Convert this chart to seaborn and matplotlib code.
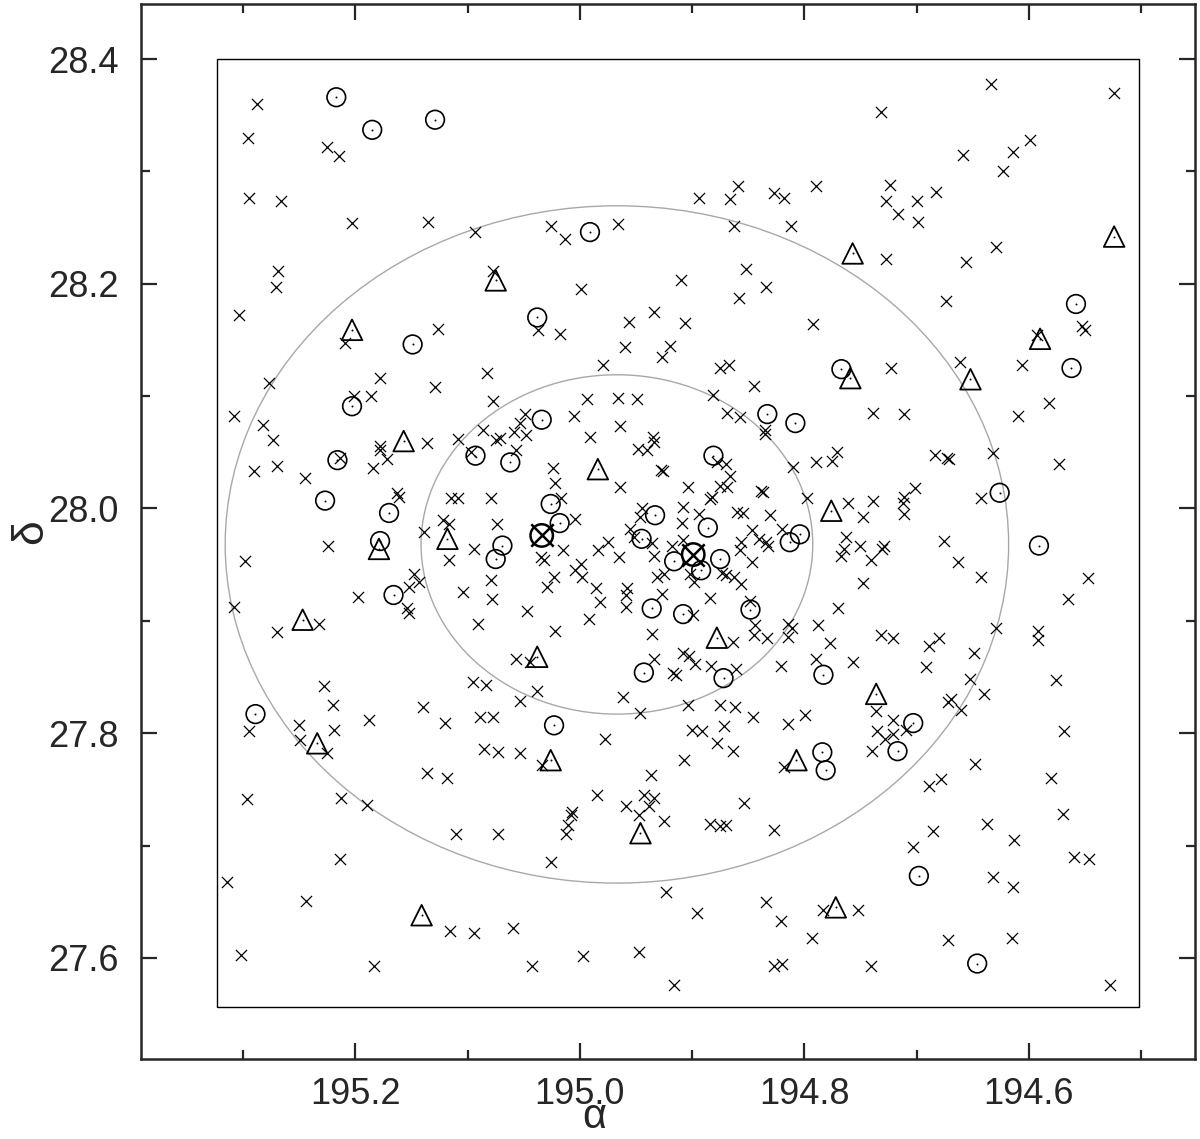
import matplotlib
matplotlib.use("Agg")
import matplotlib.pyplot as plt
from matplotlib.patches import Ellipse, Rectangle
from matplotlib.ticker import MultipleLocator, FormatStrFormatter
import pandas as pd
import seaborn as sns

# sources without classification (crosses): (RA, Dec) in degrees
cross_pts = [
    (195.288, 28.360), (195.296, 28.330), (195.225, 28.322), (195.215, 28.314), (195.295, 28.276),
    (195.266, 28.274), (195.203, 28.254), (195.135, 28.255), (195.093, 28.246), (195.269, 28.211),
    (195.271, 28.197), (195.304, 28.172), (195.126, 28.160), (195.209, 28.147), (195.077, 28.211),
    (194.859, 28.287), (194.894, 28.276), (194.866, 28.275), (194.827, 28.281), (194.818, 28.276),
    (194.790, 28.287), (195.026, 28.251), (195.013, 28.240), (194.966, 28.253), (194.863, 28.251),
    (194.812, 28.251), (194.852, 28.213), (194.910, 28.203), (194.834, 28.197), (194.999, 28.195),
    (194.858, 28.187), (194.934, 28.175), (194.956, 28.166), (194.906, 28.165), (194.792, 28.164),
    (195.037, 28.159), (195.018, 28.155), (194.960, 28.144), (194.920, 28.145), (194.927, 28.135),
    (194.634, 28.378), (194.524, 28.370), (194.732, 28.353), (194.599, 28.328), (194.659, 28.315),
    (194.614, 28.317), (194.623, 28.300), (194.724, 28.288), (194.683, 28.282), (194.727, 28.274),
    (194.700, 28.274), (194.717, 28.262), (194.699, 28.255), (194.629, 28.233), (194.727, 28.222),
    (194.656, 28.219), (194.674, 28.185), (194.553, 28.162), (194.550, 28.159), (194.593, 28.154),
    (195.277, 28.112), (195.178, 28.116), (195.186, 28.100), (195.201, 28.100), (195.129, 28.108),
    (195.083, 28.121), (195.077, 28.096), (195.308, 28.082), (195.282, 28.074), (195.273, 28.061),
    (195.290, 28.033), (195.270, 28.038), (195.245, 28.027), (195.214, 28.045), (195.178, 28.056),
    (195.178, 28.052), (195.172, 28.044), (195.184, 28.036), (195.136, 28.058), (195.109, 28.062),
    (195.097, 28.050), (195.086, 28.070), (195.075, 28.061), (195.071, 28.063), (195.059, 28.068),
    (195.053, 28.076), (195.057, 28.052), (195.163, 28.014), (195.161, 28.010), (195.115, 28.009),
    (195.109, 28.009), (195.079, 28.009), (195.122, 27.990), (195.117, 27.986), (195.074, 27.986),
    (195.139, 27.979), (195.094, 27.964), (195.117, 27.954), (195.224, 27.967), (195.298, 27.953),
    (195.148, 27.942), (195.152, 27.930), (195.143, 27.935), (195.154, 27.911), (195.152, 27.907),
    (195.198, 27.921), (195.104, 27.926), (195.079, 27.936), (195.078, 27.919), (195.308, 27.912),
    (195.270, 27.890), (195.232, 27.897), (195.091, 27.897), (195.057, 27.866),
    (194.979, 28.128), (194.875, 28.125), (194.867, 28.128), (194.845, 28.109), (194.881, 28.101),
    (194.994, 28.097), (194.966, 28.098), (194.949, 28.097), (195.049, 28.084), (195.048, 28.065),
    (195.005, 28.082), (194.964, 28.073), (194.991, 28.064), (194.935, 28.064), (194.934, 28.059),
    (194.948, 28.053), (194.940, 28.052), (194.928, 28.034), (194.926, 28.033), (194.869, 28.085),
    (194.857, 28.081), (194.835, 28.070), (194.835, 28.066), (195.024, 28.036), (195.022, 28.023),
    (194.964, 28.019), (194.904, 28.019), (194.878, 28.041), (194.870, 28.040), (194.866, 28.029),
    (194.875, 28.020), (194.869, 28.019), (194.882, 28.010), (194.884, 28.008), (194.839, 28.016),
    (194.837, 28.015), (194.810, 28.037), (194.790, 28.041), (194.798, 28.009), (195.017, 28.009),
    (195.004, 27.991), (194.908, 28.001), (194.909, 27.987), (194.894, 27.995), (194.860, 27.997),
    (194.855, 27.996), (194.831, 27.994), (194.945, 28.000), (194.946, 27.992), (194.955, 27.982),
    (194.952, 27.975), (194.847, 27.981), (194.840, 27.973), (194.834, 27.970), (194.832, 27.967),
    (194.856, 27.970), (194.857, 27.963), (194.820, 27.982), (194.975, 27.970), (194.984, 27.963),
    (195.015, 27.963), (195.035, 27.957), (195.032, 27.954), (194.965, 27.957), (194.936, 27.969),
    (194.934, 27.958), (194.918, 27.967), (194.908, 27.972), (194.847, 27.952), (194.999, 27.951),
    (195.004, 27.945), (194.998, 27.939), (195.023, 27.939), (195.029, 27.930), (194.986, 27.929),
    (194.982, 27.917), (194.958, 27.929), (194.959, 27.923), (194.959, 27.912), (194.931, 27.939),
    (194.925, 27.942), (194.927, 27.924), (194.902, 27.942), (194.898, 27.935), (194.873, 27.943),
    (194.870, 27.941), (194.863, 27.939), (194.856, 27.933), (194.884, 27.920), (194.848, 27.918),
    (194.899, 27.905), (195.047, 27.909), (194.992, 27.902), (195.022, 27.891), (194.936, 27.888),
    (194.844, 27.896), (194.845, 27.887), (194.833, 27.885), (194.815, 27.897), (194.811, 27.894),
    (194.815, 27.886), (194.788, 27.896), (194.777, 27.880), (194.864, 27.881), (194.934, 27.866),
    (194.908, 27.871), (194.903, 27.869), (194.897, 27.862), (194.883, 27.860), (194.861, 27.857),
    (194.821, 27.860), (194.790, 27.866), (195.044, 27.863),
    (194.723, 28.125), (194.661, 28.130), (194.606, 28.128), (194.582, 28.094), (194.739, 28.085),
    (194.711, 28.084), (194.610, 28.082), (194.771, 28.050), (194.775, 28.042), (194.684, 28.048),
    (194.673, 28.045), (194.671, 28.044), (194.632, 28.049), (194.573, 28.040), (194.701, 28.018),
    (194.711, 28.010), (194.712, 28.005), (194.761, 28.005), (194.739, 28.007), (194.748, 27.992),
    (194.711, 27.995), (194.643, 28.009), (194.763, 27.975), (194.765, 27.964), (194.767, 27.958),
    (194.750, 27.967), (194.729, 27.967), (194.731, 27.964), (194.741, 27.954), (194.676, 27.971),
    (194.663, 27.952), (194.643, 27.939), (194.547, 27.938), (194.748, 27.934), (194.565, 27.919),
    (194.770, 27.911), (194.732, 27.887), (194.721, 27.885), (194.689, 27.878), (194.680, 27.885),
    (194.629, 27.894), (194.592, 27.891), (194.592, 27.883), (194.649, 27.871), (194.757, 27.863),
    (194.692, 27.859),
    (195.228, 27.842), (195.220, 27.825), (195.188, 27.812), (195.219, 27.803), (195.250, 27.807),
    (195.249, 27.794), (195.225, 27.782), (195.295, 27.802), (195.140, 27.823), (195.120, 27.809),
    (195.095, 27.846), (195.084, 27.843), (195.089, 27.814), (195.077, 27.814), (195.085, 27.786),
    (195.073, 27.783), (195.053, 27.782), (195.053, 27.829), (195.136, 27.765), (195.118, 27.760),
    (195.297, 27.741), (195.213, 27.742), (195.190, 27.736), (195.110, 27.710), (195.073, 27.710),
    (195.214, 27.688), (195.314, 27.668), (195.244, 27.651), (195.116, 27.624), (195.094, 27.622),
    (195.060, 27.627), (195.302, 27.603), (195.183, 27.593),
    (195.038, 27.838), (194.962, 27.832), (194.946, 27.818), (194.904, 27.825), (194.875, 27.825),
    (194.862, 27.823), (194.846, 27.814), (194.815, 27.808), (194.799, 27.816), (194.900, 27.803),
    (194.891, 27.802), (194.872, 27.806), (194.878, 27.791), (194.864, 27.784), (194.978, 27.795),
    (194.907, 27.776), (195.034, 27.772), (194.818, 27.770), (194.937, 27.763), (194.985, 27.745),
    (194.943, 27.745), (194.934, 27.742), (194.938, 27.735), (194.959, 27.735), (194.947, 27.727),
    (194.925, 27.722), (195.007, 27.730), (195.008, 27.727), (195.011, 27.718), (195.012, 27.710),
    (194.884, 27.719), (194.875, 27.717), (194.870, 27.718), (194.854, 27.738), (194.827, 27.714),
    (195.026, 27.685), (194.923, 27.659), (194.834, 27.650), (194.896, 27.640), (194.821, 27.633),
    (194.783, 27.643), (194.793, 27.618), (194.997, 27.602), (194.947, 27.605), (195.043, 27.593),
    (194.827, 27.593), (194.820, 27.595), (194.916, 27.576), (194.917, 27.854), (194.914, 27.852),
    (194.652, 27.848), (194.640, 27.835), (194.576, 27.847), (194.736, 27.820), (194.721, 27.812),
    (194.672, 27.828), (194.669, 27.830), (194.660, 27.821), (194.735, 27.802), (194.728, 27.795),
    (194.721, 27.799), (194.709, 27.803), (194.740, 27.784), (194.569, 27.802), (194.648, 27.773),
    (194.580, 27.760), (194.678, 27.759), (194.689, 27.753), (194.570, 27.728), (194.637, 27.719),
    (194.685, 27.713), (194.613, 27.705), (194.703, 27.699), (194.560, 27.690), (194.546, 27.688),
    (194.632, 27.672), (194.614, 27.663), (194.752, 27.643), (194.672, 27.616), (194.615, 27.618),
    (194.741, 27.593), (194.528, 27.576),
]

# open circles with a central dot
circle_pts = [
    (195.217, 28.366), (195.185, 28.337), (195.129, 28.346), (195.149, 28.146), (194.991, 28.246),
    (195.038, 28.170), (194.558, 28.182), (195.203, 28.091), (195.216, 28.043), (195.093, 28.047),
    (195.062, 28.041), (195.227, 28.007), (195.170, 27.996), (195.178, 27.971), (195.069, 27.967),
    (195.075, 27.955), (195.166, 27.923), (195.034, 28.079), (194.833, 28.084), (194.808, 28.076),
    (194.881, 28.047), (195.026, 28.004), (195.018, 27.987), (194.933, 27.994), (194.886, 27.983),
    (194.945, 27.973), (194.813, 27.970), (194.804, 27.977), (194.916, 27.953), (194.875, 27.955),
    (194.892, 27.945), (194.936, 27.911), (194.908, 27.906), (194.848, 27.910), (194.767, 28.124),
    (194.562, 28.125), (194.626, 28.014), (194.591, 27.967), (195.289, 27.817), (194.943, 27.854),
    (194.872, 27.849), (194.783, 27.852), (195.023, 27.807), (194.784, 27.783), (194.781, 27.767),
    (194.703, 27.809), (194.717, 27.784), (194.698, 27.673), (194.646, 27.595),
]

# triangles with a central dot
triangle_pts = [
    (195.075, 28.203), (195.203, 28.159), (194.757, 28.227), (194.524, 28.242), (194.590, 28.151),
    (195.157, 28.060), (195.118, 27.973), (195.179, 27.964), (195.247, 27.901), (194.984, 28.035),
    (194.878, 27.885), (195.038, 27.868), (194.759, 28.116), (194.652, 28.115), (194.776, 27.998),
    (195.234, 27.791), (195.141, 27.638), (195.026, 27.776), (194.807, 27.776), (194.946, 27.711),
    (194.736, 27.835), (194.772, 27.645),
]

# two bright objects: circle with a cross
crossed_pts = [(195.034, 27.976), (194.899, 27.959)]

centre = (194.967, 27.968)
outer_axes = (0.349, 0.3014)
inner_axes = (0.1745, 0.151)
field_ra = (194.502, 195.323)
field_dec = (27.556, 28.400)

crosses = pd.DataFrame(cross_pts, columns=["ra", "dec"])
circles = pd.DataFrame(circle_pts, columns=["ra", "dec"])
triangles = pd.DataFrame(triangle_pts, columns=["ra", "dec"])
crossed = pd.DataFrame(crossed_pts, columns=["ra", "dec"])

sns.set_style("ticks")
plt.rcParams["font.family"] = ["Liberation Sans", "DejaVu Sans"]

fig = plt.figure(figsize=(12, 11.39), dpi=100)
ax = fig.add_axes([0.1175, 0.0702, 0.8783, 0.9263])

ax.add_patch(Rectangle((field_ra[0], field_dec[0]), field_ra[1] - field_ra[0],
                       field_dec[1] - field_dec[0], fill=False, ec="black", lw=1.0, zorder=1))
for a, b in (outer_axes, inner_axes):
    ax.add_patch(Ellipse(centre, 2 * a, 2 * b, fill=False, ec="#a8a8a8", lw=1.0, zorder=1))

sns.scatterplot(data=crosses, x="ra", y="dec", marker="x", s=64, color="black",
                linewidth=0.9, ax=ax, zorder=3)
sns.scatterplot(data=circles, x="ra", y="dec", marker="o", s=180, facecolor="none",
                edgecolor="black", linewidth=1.2, ax=ax, zorder=4)
sns.scatterplot(data=triangles, x="ra", y="dec", marker="^", s=220, facecolor="none",
                edgecolor="black", linewidth=1.3, ax=ax, zorder=4)
dots = pd.concat([circles, triangles])
sns.scatterplot(data=dots, x="ra", y="dec", marker="o", s=2, color="black",
                linewidth=0, ax=ax, zorder=5)
sns.scatterplot(data=crossed, x="ra", y="dec", marker="o", s=260, facecolor="none",
                edgecolor="black", linewidth=1.8, ax=ax, zorder=5)
sns.scatterplot(data=crossed, x="ra", y="dec", marker="x", s=260, color="black",
                linewidth=1.8, ax=ax, zorder=5)

ax.set_xlim(195.391, 194.452)
ax.set_ylim(27.510, 28.449)
ax.xaxis.set_major_locator(MultipleLocator(0.2))
ax.xaxis.set_minor_locator(MultipleLocator(0.1))
ax.yaxis.set_major_locator(MultipleLocator(0.2))
ax.yaxis.set_minor_locator(MultipleLocator(0.1))
ax.xaxis.set_major_formatter(FormatStrFormatter("%.1f"))
ax.yaxis.set_major_formatter(FormatStrFormatter("%.1f"))
ax.tick_params(which="both", direction="in", top=True, right=True, width=1.6, labelsize=26)
ax.tick_params(axis="x", which="major", length=11.5, pad=13)
ax.tick_params(axis="y", which="major", length=11.5, pad=16)
ax.tick_params(which="minor", length=6.5)
for sp in ax.spines.values():
    sp.set_linewidth(1.8)

ax.set_xlabel("α", fontsize=30, va="bottom")
ax.xaxis.set_label_coords(0.43, -0.0735)
ax.set_ylabel("δ", fontsize=32, labelpad=-2)

fig.savefig("out.png", dpi=100)
